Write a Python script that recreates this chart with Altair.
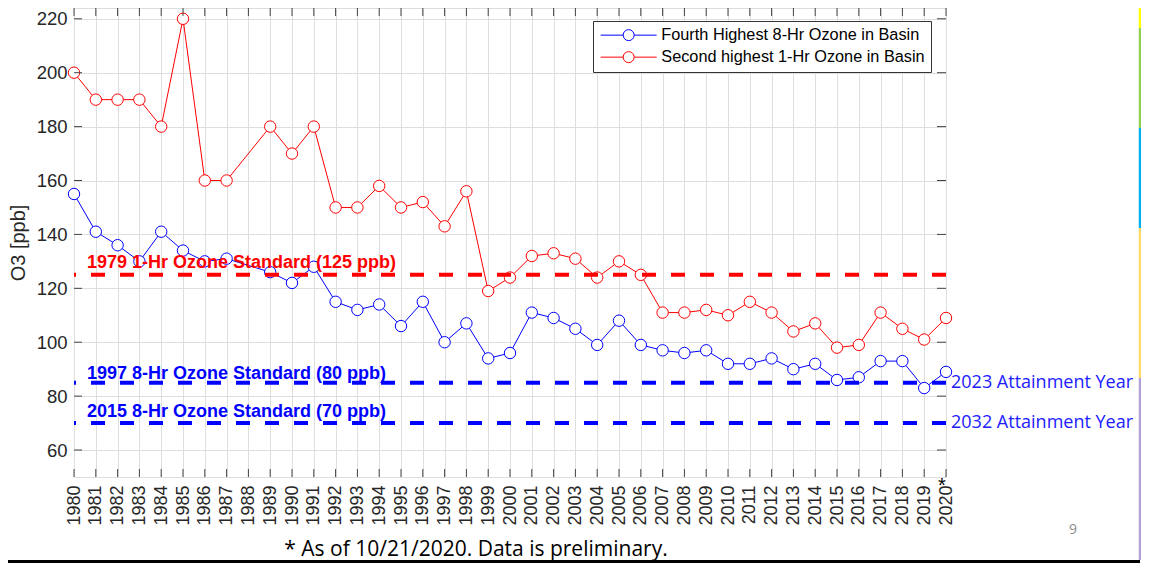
import altair as alt
import pandas as pd

# ---------------- data ----------------
years = [1980, 1981, 1982, 1983, 1984, 1985, 1986, 1987, 1989, 1990,
         1991, 1992, 1993, 1994, 1995, 1996, 1997, 1998, 1999, 2000,
         2001, 2002, 2003, 2004, 2005, 2006, 2007, 2008, 2009, 2010,
         2011, 2012, 2013, 2014, 2015, 2016, 2017, 2018, 2019, 2020]
fourth_8hr = [155, 141, 136, 130, 141, 134, 130, 131, 126, 122,
              128, 115, 112, 114, 106, 115, 100, 107, 94, 96,
              111, 109, 105, 99, 108, 99, 97, 96, 97, 92,
              92, 94, 90, 92, 86, 87, 93, 93, 83, 89]
second_1hr = [200, 190, 190, 190, 180, 220, 160, 160, 180, 170,
              180, 150, 150, 158, 150, 152, 143, 156, 119, 124,
              132, 133, 131, 124, 130, 125, 111, 111, 112, 110,
              115, 111, 104, 107, 98, 99, 111, 105, 101, 109]
series_names = ["Fourth Highest 8-Hr Ozone in Basin",
                "Second highest 1-Hr Ozone in Basin"]
series_colors = ["#0000ff", "#ff0000"]
tick_years = list(range(1980, 2021))
y_ticks = [60, 80, 100, 120, 140, 160, 180, 200, 220]
standard_values = [125, 85, 70]
standard_labels = ["1979 1-Hr Ozone Standard (125 ppb)",
                   "1997 8-Hr Ozone Standard (80 ppb)",
                   "2015 8-Hr Ozone Standard (70 ppb)"]
attainment_labels = ["2023 Attainment Year", "2032 Attainment Year"]
footnote = "* As of 10/21/2020. Data is preliminary."
page_number = "9"

W, H = 872, 469

df = pd.DataFrame({
    "year": years + years,
    "value": fourth_8hr + second_1hr,
    "series": [series_names[0]] * len(years) + [series_names[1]] * len(years),
})
tick_df = pd.DataFrame({"year": tick_years})
ytick_df = pd.DataFrame({"value": y_ticks})

xs = alt.Scale(domain=[1980, 2020], nice=False, zero=False)
ys = alt.Scale(domain=[50, 224], nice=False, zero=False)

# line-circle-line legend glyph (unit = half of a 13px symbol)
legend_symbol = ("M-1,0L2.462,0M4.154,0L7.615,0"
                 "M4.154,0A0.846,0.846,0,1,1,2.462,0"
                 "A0.846,0.846,0,1,1,4.154,0Z")

color = alt.Color(
    "series:N",
    scale=alt.Scale(domain=series_names, range=series_colors),
    legend=alt.Legend(
        title=None, orient="none", legendX=519, legendY=13,
        direction="vertical", symbolType=legend_symbol, symbolSize=169,
        symbolStrokeWidth=1, symbolFillColor="white",
        labelFont="Liberation Sans", labelFontSize=16.3, labelColor="black",
        labelOffset=46, strokeColor="#333333", fillColor="white",
        padding=6, rowPadding=5, labelLimit=400,
    ),
)

x_axis = alt.Axis(
    values=tick_years, format="d", labelAngle=270, labelFontSize=18,
    labelPadding=8, ticks=False, domain=False, grid=True,
    gridColor="#dedede", title=None, labelColor="#262626",
    labelOverlap=False, labelFlush=False, labelFont="Liberation Sans",
    labelBound=False)
y_axis = alt.Axis(
    values=y_ticks, title="O3 [ppb]", titleFontSize=20,
    titleFont="Liberation Sans", titleFontWeight="normal",
    titleColor="#262626", titlePadding=8, labelFontSize=18.5,
    labelFont="Liberation Sans", labelColor="#262626", labelPadding=7,
    ticks=False, domain=False, grid=True, gridColor="#dedede",
    labelOverlap=False)


def X(field="year:Q"):
    return alt.X(field, scale=xs, axis=x_axis)


def Y(field="value:Q"):
    return alt.Y(field, scale=ys, axis=y_axis)


lines = alt.Chart(df).mark_line(strokeWidth=1).encode(
    x=X(), y=Y(), color=color)
points = alt.Chart(df).mark_point(
    shape="circle", size=130, filled=False, fill="white", fillOpacity=1,
    strokeWidth=1, opacity=1).encode(x=X(), y=Y(), color=color)

# inward ticks (box style)
xt_bottom = alt.Chart(tick_df).mark_rule(color="#444444").encode(
    x=X(), y=alt.value(H), y2=alt.value(H - 8))
xt_top = alt.Chart(tick_df).mark_rule(color="#444444").encode(
    x=X(), y=alt.value(0), y2=alt.value(8))
yt_left = alt.Chart(ytick_df).mark_rule(color="#444444").encode(
    y=Y(), x=alt.value(0), x2=alt.value(8))
yt_right = alt.Chart(ytick_df).mark_rule(color="#444444").encode(
    y=Y(), x=alt.value(W), x2=alt.value(W - 9))

std_colors = ["#ff0000", "#0000ff", "#0000ff"]
std_dy = [-6.5, -3.5, -6.5]
layers = [lines, points, xt_bottom, xt_top, yt_left, yt_right]
for v, lab, c, dy in zip(standard_values, standard_labels, std_colors, std_dy):
    layers.append(alt.Chart().mark_rule(
        color=c, strokeWidth=4, strokeDash=[14, 15]).encode(
        y=alt.YDatum(v, scale=ys, axis=y_axis)))
    layers.append(alt.Chart().mark_text(
        text=lab, color=c, font="Liberation Sans", fontSize=18,
        fontWeight="bold", align="left", baseline="alphabetic", dy=dy).encode(
        x=alt.value(13), y=alt.YDatum(v, scale=ys, axis=y_axis)))

for v, lab in zip(standard_values[1:], attainment_labels):
    layers.append(alt.Chart().mark_text(
        text=lab, color="#2020ff", font="Open Sans", fontSize=18,
        align="left", baseline="middle").encode(
        x=alt.value(W + 5), y=alt.YDatum(v, scale=ys, axis=y_axis)))

# asterisk next to 2020
layers.append(alt.Chart().mark_text(
    text="*", color="black", font="Liberation Sans", fontSize=20,
    align="center", baseline="top", dx=-4).encode(
    x=alt.XDatum(2020, scale=xs, axis=x_axis), y=alt.value(H - 1)))

# footnote and slide page number
layers.append(alt.Chart().mark_text(
    text=footnote, color="black", font="Open Sans", fontSize=21,
    align="center", baseline="alphabetic").encode(
    x=alt.value(402), y=alt.value(548)))
layers.append(alt.Chart().mark_text(
    text=page_number, color="#8c8c8c", font="Open Sans", fontSize=14,
    align="center", baseline="middle").encode(
    x=alt.value(999), y=alt.value(522)))

# slide decorations: bottom black line and coloured right edge
layers.append(alt.Chart().mark_rule(color="black", strokeWidth=3).encode(
    x=alt.value(-66), x2=alt.value(1066), y=alt.value(553.5)))
for c, a, b in [("#ffff00", 0, 20), ("#92d050", 20, 120), ("#00b0f0", 120, 220),
                ("#ffd966", 220, 370), ("#b4a0d8", 370, 552)]:
    layers.append(alt.Chart().mark_rule(color=c, strokeWidth=2.5).encode(
        x=alt.value(1066), y=alt.value(a), y2=alt.value(b)))

chart = alt.layer(*layers).properties(
    width=W, height=H,
    autosize=alt.AutoSizeParams(type="none"),
    padding={"left": 66, "top": 0, "right": 195, "bottom": 86},
    background="white",
).configure_view(stroke="#555555", strokeWidth=1).configure_axis(
    labelOverlap=False).configure(font="Liberation Sans")

chart.save("out.html", embed_options={"renderer": "svg", "actions": False})
